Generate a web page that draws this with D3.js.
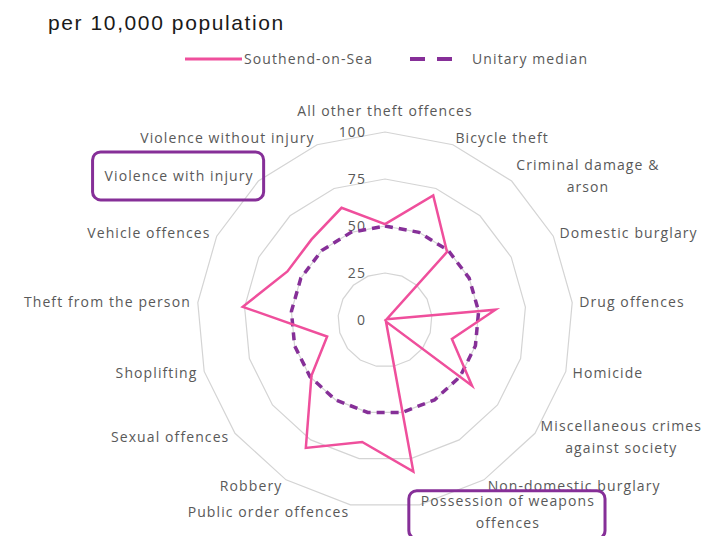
<!DOCTYPE html>
<html>
<head>
<meta charset="utf-8">
<script src="https://d3js.org/d3.v7.min.js"></script>
<style>
  html, body { margin: 0; padding: 0; background: #fff; }
  svg { display: block; }
  .lbl { font-family: "Open Sans", sans-serif; font-size: 14px; letter-spacing: 1.1px; fill: #595959; }
</style>
</head>
<body>
<div id="chart"></div>
<script>
// categories, clockwise from the top ("\n" = line break as on the original)
var categories = [
  "All other theft offences", "Bicycle theft", "Criminal damage &\narson",
  "Domestic burglary", "Drug offences", "Homicide",
  "Miscellaneous crimes\nagainst society", "Non-domestic burglary",
  "Possession of weapons\noffences", "Public order offences", "Robbery",
  "Sexual offences", "Shoplifting", "Theft from the person",
  "Vehicle offences", "Violence with injury", "Violence without injury"
];
var southend = [51, 71, 49, 1, 59, 37, 58, 1, 82, 66, 80, 49, 32, 76, 58, 58, 64];
var unitaryMedian = [50, 50, 50, 50, 50, 50, 50, 50, 50, 50, 50, 50, 50, 50, 50, 50, 50];
var ticks = [0, 25, 50, 75, 100];
var highlighted = ["Violence with injury", "Possession of weapons\noffences"];

var width = 704, height = 536;
var cx = 385, cy = 320, R = 188;

var svg = d3.select("#chart").append("svg")
  .attr("width", width).attr("height", height);

var r = d3.scaleLinear().domain([0, 100]).range([0, R]);
var angle = d3.scaleLinear().domain([0, categories.length]).range([0, 2 * Math.PI]);

var g = svg.append("g").attr("transform", "translate(" + cx + "," + cy + ")");

var radial = d3.lineRadial()
  .angle(function(d, i) { return angle(i); })
  .radius(function(d) { return r(d); })
  .curve(d3.curveLinearClosed);

// grid rings (17-sided polygons)
ticks.slice(1).forEach(function(t) {
  g.append("path")
    .attr("d", radial(categories.map(function() { return t; })))
    .attr("fill", "none")
    .attr("stroke", "#d4d4d4")
    .attr("stroke-width", 1.2);
});

// value labels
g.selectAll(".tick")
  .data(ticks)
  .enter().append("text")
  .attr("class", "lbl")
  .attr("x", -19)
  .attr("y", function(d) { return -r(d); })
  .attr("dy", "0.35em")
  .attr("text-anchor", "end")
  .text(function(d) { return d; });

// series
g.append("path")
  .attr("d", radial(unitaryMedian))
  .attr("fill", "none")
  .attr("stroke", "#862f98")
  .attr("stroke-width", 3.5)
  .attr("stroke-dasharray", "8,6");

g.append("path")
  .attr("d", radial(southend))
  .attr("fill", "none")
  .attr("stroke", "#ef4f9c")
  .attr("stroke-width", 2.5)
  .attr("stroke-linejoin", "miter");

// category labels
var Rl = 195, lineH = 22;
categories.forEach(function(c, i) {
  var a = angle(i), s = Math.sin(a), co = Math.cos(a);
  var px = Rl * s, py = -Rl * co;
  if (Math.abs(s) < 0.05) py -= 14 * co;
  var lines = c.split("\n");
  var t = g.append("text").attr("class", "lbl").attr("text-anchor", "middle");
  lines.forEach(function(l, k) {
    t.append("tspan").text(l)
      .attr("y", py + (k - (lines.length - 1) / 2) * lineH)
      .attr("dy", "0.35em");
  });
  var w = 0;
  t.selectAll("tspan").each(function() { w = Math.max(w, this.getComputedTextLength()); });
  var x = Math.abs(s) < 0.05 ? px : (s > 0 ? px + w / 2 : px - w / 2);
  t.selectAll("tspan").attr("x", x);

  if (highlighted.indexOf(c) >= 0) {
    var bh = 48;
    g.append("rect")
      .attr("x", x - w / 2 - 12)
      .attr("y", py - bh / 2 + (lines.length > 1 ? 3 : 0))
      .attr("width", w + 22)
      .attr("height", bh)
      .attr("rx", 8)
      .attr("fill", "none")
      .attr("stroke", "#862f98")
      .attr("stroke-width", 3);
  }
});

// title
svg.append("text")
  .attr("x", 48).attr("y", 30)
  .attr("font-family", "Liberation Sans, Arial, sans-serif")
  .attr("font-size", 21)
  .attr("letter-spacing", 1.6)
  .attr("fill", "#1a1a1a")
  .text("per 10,000 population");

// legend
var leg = svg.append("g").attr("transform", "translate(0,59)");
leg.append("line").attr("x1", 185).attr("x2", 242)
  .attr("stroke", "#ef4f9c").attr("stroke-width", 3);
leg.append("text").attr("class", "lbl").attr("x", 244).attr("dy", "0.35em")
  .text("Southend-on-Sea");
leg.append("line").attr("x1", 410).attr("x2", 454)
  .attr("stroke", "#862f98").attr("stroke-width", 4)
  .attr("stroke-dasharray", "15,12");
leg.append("text").attr("class", "lbl").attr("x", 472).attr("dy", "0.35em")
  .text("Unitary median");
</script>
</body>
</html>
